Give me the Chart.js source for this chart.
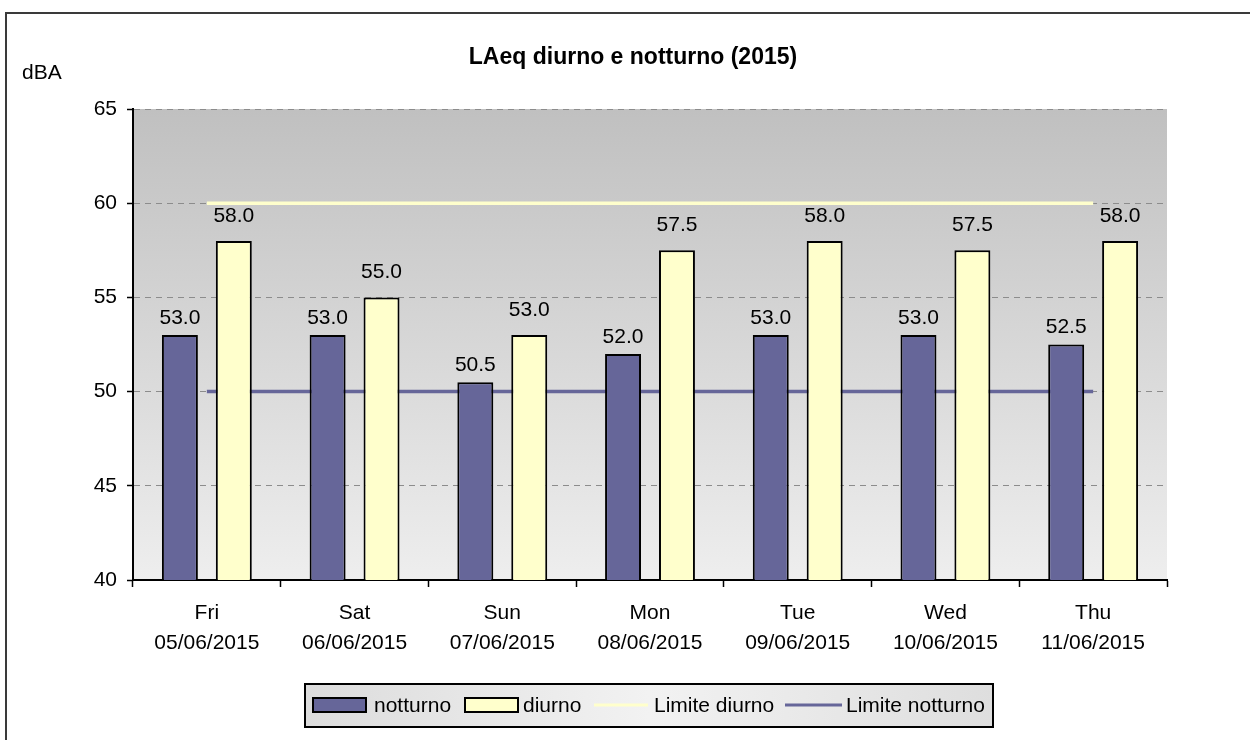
<!DOCTYPE html>
<html>
<head>
<meta charset="utf-8">
<script src="https://cdn.jsdelivr.net/npm/chart.js@4.4.1/dist/chart.umd.min.js"></script>
<style>
    html, body { margin: 0; padding: 0; background: #fff; }
    #wrap { width: 1250px; height: 740px; }
</style>
</head>
<body>
<div id="wrap"><canvas id="laeqChart" width="1250" height="740"></canvas></div>
<script>
// chart data
const dayNames = ['Fri', 'Sat', 'Sun', 'Mon', 'Tue', 'Wed', 'Thu'];
const dates = ['05/06/2015', '06/06/2015', '07/06/2015', '08/06/2015', '09/06/2015', '10/06/2015', '11/06/2015'];
const notturno = [53.0, 53.0, 50.5, 52.0, 53.0, 53.0, 52.5];
const diurno = [58.0, 55.0, 53.0, 57.5, 58.0, 57.5, 58.0];
const limiteDiurno = [60, 60, 60, 60, 60, 60, 60];
const limiteNotturno = [50, 50, 50, 50, 50, 50, 50];
const yTicks = [40, 45, 50, 55, 60, 65];

const FONT = '"Liberation Sans", Arial, sans-serif';
const NOTTE = '#666699';
const GIORNO = '#FFFFCC';

const labels = dayNames.map((d, i) => [d, dates[i]]);

// frame, plot background, title and axis caption
const backgroundPlugin = {
    id: 'background',
    beforeDraw(chart) {
        const ctx = chart.ctx;
        const a = chart.chartArea;
        ctx.save();
        ctx.fillStyle = '#fff';
        ctx.fillRect(0, 0, chart.width, chart.height);
        // outer frame (only top and left visible)
        ctx.strokeStyle = '#3a3a3a';
        ctx.lineWidth = 2;
        ctx.beginPath();
        ctx.moveTo(6, chart.height);
        ctx.lineTo(6, 13);
        ctx.lineTo(chart.width, 13);
        ctx.stroke();
        // plot area gradient
        const g = ctx.createLinearGradient(0, a.top, 0, a.bottom);
        g.addColorStop(0, '#c0c0c0');
        g.addColorStop(1, '#eeeeee');
        ctx.fillStyle = g;
        ctx.fillRect(a.left, a.top, a.right - a.left, a.bottom - a.top);
        // title
        ctx.fillStyle = '#000';
        ctx.textAlign = 'center';
        ctx.textBaseline = 'middle';
        ctx.font = 'bold 23px ' + FONT;
        ctx.fillText('LAeq diurno e notturno (2015)', 633, 58);
        ctx.font = '21px ' + FONT;
        ctx.textAlign = 'left';
        ctx.fillText('dBA', 22, 73);
        ctx.restore();
    }
};

// value labels above bars
const valueLabelsPlugin = {
    id: 'valueLabels',
    afterDatasetsDraw(chart) {
        const ctx = chart.ctx;
        ctx.save();
        ctx.font = '21px ' + FONT;
        ctx.fillStyle = '#000';
        ctx.textAlign = 'center';
        ctx.textBaseline = 'middle';
        chart.data.datasets.forEach((ds, di) => {
            if (ds.type !== 'bar') return;
            const meta = chart.getDatasetMeta(di);
            const lift = di === 0 ? 17 : 25;
            meta.data.forEach((bar, i) => {
                ctx.fillText(ds.data[i].toFixed(1), bar.x, bar.y - lift);
            });
        });
        ctx.restore();
    }
};

// legend box at the bottom
const legendPlugin = {
    id: 'legendBox',
    afterDraw(chart) {
        const ctx = chart.ctx;
        ctx.save();
        const g = ctx.createLinearGradient(305, 0, 993, 0);
        g.addColorStop(0, '#dcdcdc');
        g.addColorStop(0.5, '#f2f2f2');
        g.addColorStop(1, '#dedede');
        ctx.fillStyle = g;
        ctx.fillRect(305, 684, 688, 43);
        ctx.strokeStyle = '#000';
        ctx.lineWidth = 2;
        ctx.strokeRect(305, 684, 688, 43);

        ctx.font = '21px ' + FONT;
        ctx.textBaseline = 'middle';
        ctx.textAlign = 'left';
        const cy = 706;

        ctx.lineWidth = 2;
        ctx.fillStyle = NOTTE;
        ctx.fillRect(313, 698, 53, 14);
        ctx.strokeRect(313, 698, 53, 14);
        ctx.fillStyle = GIORNO;
        ctx.fillRect(465, 698, 53, 14);
        ctx.strokeRect(465, 698, 53, 14);

        ctx.lineWidth = 3;
        ctx.strokeStyle = GIORNO;
        ctx.beginPath(); ctx.moveTo(594, 705); ctx.lineTo(648, 705); ctx.stroke();
        ctx.strokeStyle = NOTTE;
        ctx.beginPath(); ctx.moveTo(785, 705); ctx.lineTo(842, 705); ctx.stroke();

        ctx.fillStyle = '#000';
        ctx.fillText('notturno', 374, cy);
        ctx.fillText('diurno', 523, cy);
        ctx.fillText('Limite diurno', 654, cy);
        ctx.fillText('Limite notturno', 846, cy);
        ctx.restore();
    }
};

const ctx = document.getElementById('laeqChart').getContext('2d');
new Chart(ctx, {
    data: {
        labels: labels,
        datasets: [{
            type: 'bar',
            label: 'notturno',
            data: notturno,
            backgroundColor: NOTTE,
            borderColor: '#000',
            borderWidth: 2,
            categoryPercentage: 0.73,
            barPercentage: 0.667,
            order: 1
        }, {
            type: 'bar',
            label: 'diurno',
            data: diurno,
            backgroundColor: GIORNO,
            borderColor: '#000',
            borderWidth: 2,
            categoryPercentage: 0.73,
            barPercentage: 0.667,
            order: 1
        }, {
            type: 'line',
            label: 'Limite diurno',
            data: limiteDiurno,
            borderColor: GIORNO,
            borderWidth: 3.5,
            pointRadius: 0,
            fill: false,
            order: 2
        }, {
            type: 'line',
            label: 'Limite notturno',
            data: limiteNotturno,
            borderColor: NOTTE,
            borderWidth: 3.5,
            pointRadius: 0,
            fill: false,
            order: 2
        }]
    },
    options: {
        responsive: false,
        animation: false,
        layout: {
            padding: { top: 109, right: 83, left: 0, bottom: 0 }
        },
        plugins: {
            legend: { display: false },
            title: { display: false },
            tooltip: { enabled: false }
        },
        scales: {
            x: {
                offset: true,
                grid: {
                    offset: true,
                    drawOnChartArea: false,
                    drawTicks: true,
                    tickLength: 7,
                    tickColor: '#000',
                    tickWidth: 1.5
                },
                border: { display: true, color: '#000', width: 2 },
                ticks: {
                    color: '#000',
                    padding: 12,
                    maxRotation: 0,
                    autoSkip: false,
                    font: { family: FONT, size: 21, lineHeight: 1.4 }
                },
                afterFit(scale) { scale.height = 160; }
            },
            y: {
                min: 40,
                max: 65,
                afterBuildTicks(scale) {
                    scale.ticks = yTicks.map(v => ({ value: v }));
                },
                grid: {
                    color: c => (c.tick && c.tick.value === 40) ? 'rgba(0,0,0,0)' : '#8c8c8c',
                    lineWidth: 1,
                    drawTicks: true,
                    tickLength: 6,
                    tickColor: '#000',
                    tickWidth: 1.5
                },
                border: { display: true, color: '#000', width: 2, dash: [6, 5] },
                ticks: {
                    color: '#000',
                    padding: 10,
                    font: { family: FONT, size: 21 }
                },
                afterFit(scale) { scale.width = 133; }
            }
        }
    },
    plugins: [backgroundPlugin, valueLabelsPlugin, legendPlugin]
});
</script>
</body>
</html>
